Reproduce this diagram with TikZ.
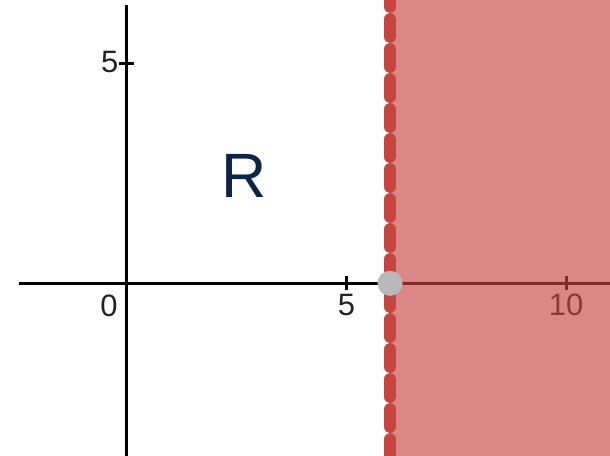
\documentclass[tikz,border=0pt]{standalone}
\usepackage{fontspec}
\setmainfont{Liberation Sans}
\definecolor{dred}{RGB}{199,68,64}
\definecolor{navy}{RGB}{12,36,72}
\definecolor{lab}{RGB}{34,34,34}
\tikzset{
  axis/.style={line width=0.065cm, draw=black},
  tick/.style={line width=0.055cm, draw=black},
  numlab/.style={text=lab, font=\fontsize{20}{24}\selectfont, inner sep=0pt},
  region/.style={fill=dred, fill opacity=0.64, draw=none},
  boundary/.style={draw=dred, line width=0.27cm, line cap=round, dash pattern=on 0.407cm off 0.275cm, dash phase=0.25cm},
  pointdot/.style={circle, fill=gray!55, minimum size=0.57cm, inner sep=0pt}
}
\begin{document}
\begin{tikzpicture}
\useasboundingbox (-2.875,-3.925) rectangle (10.989,6.439);
% axes
\coordinate (xl) at (-2.44,0);
\coordinate (xr) at (11,0);
\coordinate (yt) at (0,6.325);
\coordinate (yb) at (0,-3.93);
\draw[axis] (xl) -- (xr);
\draw[axis] (yb) -- (yt);
% ticks
\draw[tick] (5,-0.16) -- (5,0.16);
\draw[tick] (10,-0.16) -- (10,0.16);
\draw[tick] (-0.18,5) -- (0.17,5);
% labels
\node[numlab] (l0) at (-0.40,-0.52) {0};
\node[numlab] (l5) at (5.0,-0.50) {5};
\node[numlab] (l10) at (9.99,-0.50) {10};
\node[numlab] (ly5) at (-0.38,5.02) {5};
\node[text=navy, font=\fontsize{40.5}{44}\selectfont, inner sep=0pt] (R) at (2.67,2.43) {R};
% shaded region x > 6
\fill[region] (6,-3.925) rectangle (10.989,6.439);
% boundary line
\coordinate (bt) at (5.99,6.439);
\coordinate (bb) at (5.99,-3.925);
\draw[boundary] (bt) -- (bb);
% point
\node[pointdot] (p) at (5.99,0) {};
\end{tikzpicture}
\end{document}
